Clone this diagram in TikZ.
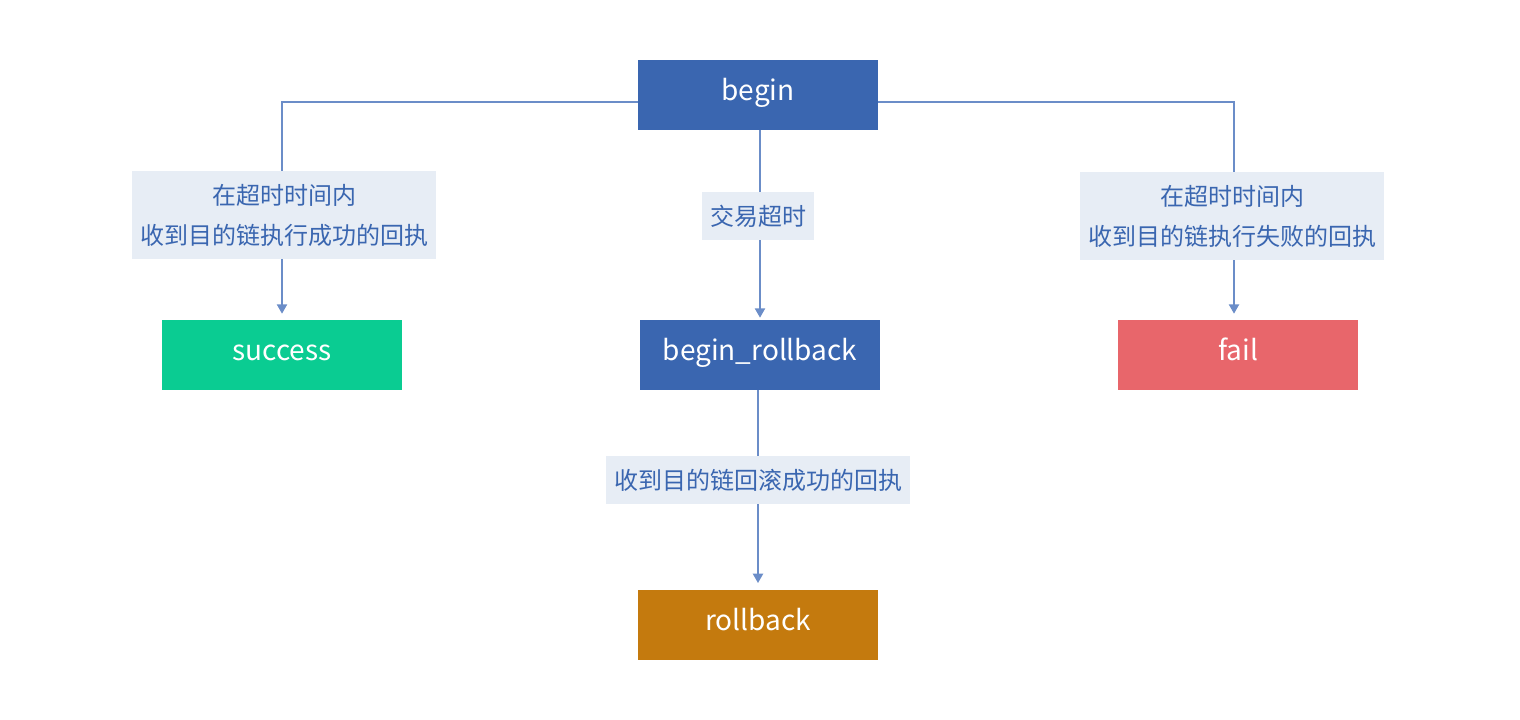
\documentclass[tikz,border=0pt]{standalone}
\usepackage{fontspec}
\setmainfont{Noto Sans CJK SC}
\usetikzlibrary{arrows.meta}
\definecolor{boxblue}{HTML}{3A66B0}
\definecolor{boxgreen}{HTML}{0ACC92}
\definecolor{boxred}{HTML}{E8666B}
\definecolor{boxorange}{HTML}{C47A0E}
\definecolor{lblbg}{HTML}{E7EDF5}
\definecolor{lbltext}{HTML}{3A66B0}
\definecolor{linec}{HTML}{6B8DC8}
\tikzset{
  statebox/.style={minimum width=180pt, minimum height=52.5pt, inner sep=0pt, text=white, text height=0.81em, text depth=0pt, font=\fontsize{21}{25}\selectfont},
  lbl/.style={fill=lblbg, text=lbltext, inner sep=0pt, align=center, font=\fontsize{18}{30}\selectfont},
  conn/.style={draw=linec, line width=1.5pt, -{Triangle[width=7.5pt,length=7pt]}},
}
\begin{document}
\begin{tikzpicture}[x=0.75pt,y=-0.75pt]
\useasboundingbox (0,0) rectangle (1520,720);
\node[statebox, fill=boxblue] (begin) at (758,95) {begin};
\node[statebox, fill=boxgreen] (success) at (282,355) {success};
\node[statebox, fill=boxblue] (brb) at (760,355) {begin\_rollback};
\node[statebox, fill=boxred] (fail) at (1238,355) {fail};
\node[statebox, fill=boxorange] (rollback) at (758,625) {rollback};
\coordinate (bl) at ([yshift=-4.9pt]begin.west);
\coordinate (br) at ([yshift=-4.9pt]begin.east);
\coordinate (failin) at ([xshift=-3pt]fail.north);
\draw[conn, shorten >=4.5pt] (bl) -| (success.north);
\draw[conn, shorten >=4.5pt] (br) -| (failin);
\draw[conn, shorten >=1.5pt] (brb.north |- begin.south) -- (brb.north);
\draw[conn, shorten >=5pt] (brb.south -| rollback.north) -- (rollback.north);
\node[lbl, minimum width=228pt, minimum height=66pt] (l1) at (284,215.5) {在超时时间内\\收到目的链执行成功的回执};
\node[lbl, minimum width=84pt, minimum height=36pt] (l2) at (758,216) {交易超时};
\node[lbl, minimum width=228pt, minimum height=66pt] (l3) at (1232,216) {在超时时间内\\收到目的链执行失败的回执};
\node[lbl, minimum width=228pt, minimum height=36pt] (l4) at (758,480) {收到目的链回滚成功的回执};
\end{tikzpicture}
\end{document}
